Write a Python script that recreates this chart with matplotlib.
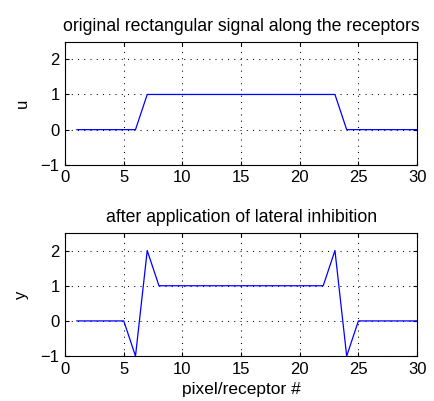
import numpy as np
import matplotlib
matplotlib.use("Agg")
import matplotlib.pyplot as plt

plt.rcParams['font.family'] = ['Liberation Sans', 'DejaVu Sans']

# receptor index
pixels = np.arange(1, 31)
# original rectangular signal
u = [0, 0, 0, 0, 0, 0, 1, 1, 1, 1, 1, 1, 1, 1, 1, 1, 1, 1, 1, 1, 1, 1, 1, 0, 0, 0, 0, 0, 0, 0]
# after lateral inhibition
y = [0, 0, 0, 0, 0, -1, 2, 1, 1, 1, 1, 1, 1, 1, 1, 1, 1, 1, 1, 1, 1, 1, 2, -1, 0, 0, 0, 0, 0, 0]

fig = plt.figure(figsize=(4.34, 4.01), dpi=100)
ax1 = fig.add_axes([0.150, 0.589, 0.811, 0.307])
ax2 = fig.add_axes([0.150, 0.112, 0.811, 0.307])

for ax, data, lab, title in [(ax1, u, 'u', 'original rectangular signal along the receptors'),
                             (ax2, y, 'y', 'after application of lateral inhibition')]:
    ax.plot(pixels, data, color='blue', lw=0.9)
    ax.set_xlim(0, 30)
    ax.set_ylim(-1, 2.5)
    ax.set_xticks([0, 5, 10, 15, 20, 25, 30])
    ax.set_yticks([-1, 0, 1, 2])
    ax.set_yticklabels(['\u22121', '0', '1', '2'])
    ax.grid(True, color='black', linestyle=(0, (1, 5)), lw=0.75)
    ax.tick_params(direction='in', top=True, right=True, labelsize=12, length=3, pad=4)
    ax.set_ylabel(lab, fontsize=12, labelpad=8)
    ax.set_title(title, fontsize=12.7, pad=8)
    for s in ax.spines.values():
        s.set_linewidth(0.8)

ax2.set_xlabel('pixel/receptor #', fontsize=12.5, labelpad=4)

fig.savefig('out.png', dpi=100)
